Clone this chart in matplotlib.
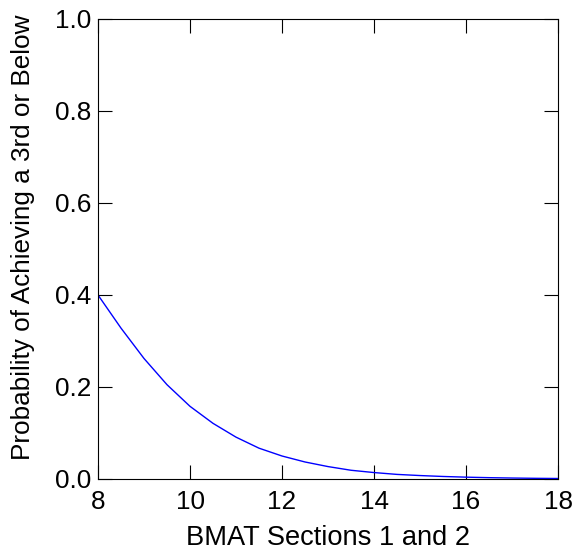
import matplotlib
matplotlib.use("Agg")
import matplotlib.pyplot as plt

plt.rcParams['font.family'] = ['Liberation Sans', 'DejaVu Sans']

bmat_score = [8.0, 8.5, 9.0, 9.5, 10.0, 10.5, 11.0, 11.5, 12.0, 12.5, 13.0,
              13.5, 14.0, 14.5, 15.0, 15.5, 16.0, 16.5, 17.0, 17.5, 18.0]
prob_third_or_below = [0.400, 0.328, 0.262, 0.205, 0.158, 0.121, 0.091, 0.067,
                       0.050, 0.037, 0.027, 0.019, 0.014, 0.010, 0.0075,
                       0.0055, 0.0040, 0.0029, 0.0021, 0.0015, 0.0011]
xticks = [8, 10, 12, 14, 16, 18]
yticks = [0.0, 0.2, 0.4, 0.6, 0.8, 1.0]

FS = 18.8
fig = plt.figure(figsize=(5.74, 5.54), dpi=100)
ax = fig.add_axes([98 / 574, 75 / 554, 460 / 574, 460 / 554])
ax.plot(bmat_score, prob_third_or_below, color='#0000ff', lw=1.0)
ax.set_xlim(8, 18)
ax.set_ylim(0, 1)
ax.set_xticks(xticks)
ax.set_xticklabels([str(t) for t in xticks])
ax.set_yticks(yticks)
ax.set_yticklabels([f"{t:.1f}" for t in yticks])
ax.tick_params(direction='in', length=10, width=0.8, labelsize=FS,
               top=True, right=True)
ax.tick_params(axis='x', pad=8)
ax.tick_params(axis='y', pad=5)
for s in ax.spines.values():
    s.set_linewidth(0.8)
ax.set_xlabel('BMAT Sections 1 and 2', fontsize=19.6)
ax.set_ylabel('Probability of Achieving a 3rd or Below', fontsize=FS)
ax.xaxis.set_label_coords(0.5, -0.1)
ax.yaxis.set_label_coords(-0.138, 0.526)
fig.savefig('out.png', dpi=100)
